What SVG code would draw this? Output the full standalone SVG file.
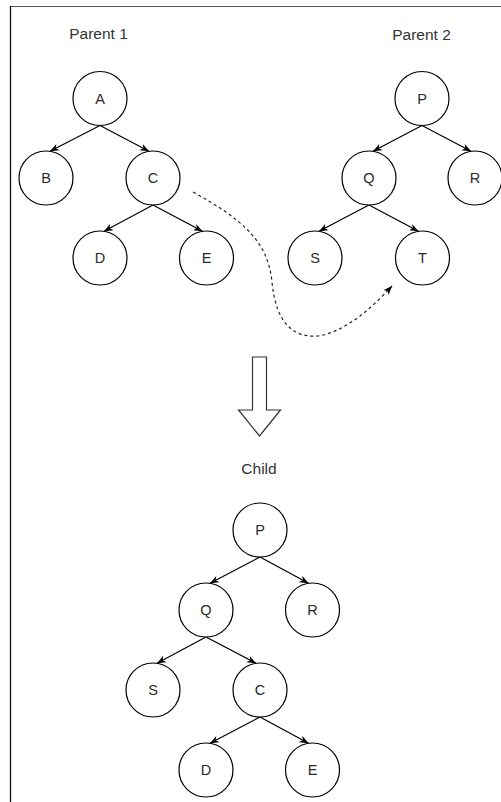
<svg xmlns="http://www.w3.org/2000/svg" width="501" height="802" viewBox="0 0 501 802">
<style>
  .node circle { fill: #ffffff; stroke: #000000; stroke-width: 1.2; }
  .node text { font-family: "Liberation Sans", Arial, sans-serif; font-size: 14.5px; fill: #2a2a2a; text-anchor: middle; }
  .label { font-family: "Liberation Sans", Arial, sans-serif; font-size: 15.5px; fill: #333333; text-anchor: middle; }
  .edge { stroke: #000000; stroke-width: 1.2; fill: none; marker-end: url(#arr); }
  .dashed { stroke: #222222; stroke-width: 1.2; fill: none; stroke-dasharray: 3 3; marker-end: url(#arr); }
</style>
<defs>
  <marker id="arr" viewBox="0 0 10 10" markerUnits="userSpaceOnUse" markerWidth="9" markerHeight="9" refX="10" refY="5" orient="auto">
    <path d="M0,1 L10,5 L0,9 L3,5 Z" fill="#000000"/>
  </marker>
</defs>
<rect x="0" y="0" width="501" height="802" fill="#ffffff"/>
<line x1="10" y1="6.5" x2="501" y2="6.5" stroke="#555555" stroke-width="1"/>
<line x1="10.5" y1="6" x2="10.5" y2="802" stroke="#111111" stroke-width="1.3"/>

<text class="label" x="98.5" y="39">Parent 1</text>
<text class="label" x="421.5" y="39.5">Parent 2</text>
<text class="label" x="259" y="474">Child</text>

<g id="connectors">
  <line class="edge" x1="100" y1="125.5" x2="50" y2="151.3"/>
  <line class="edge" x1="100" y1="125.5" x2="149" y2="151.3"/>
  <line class="edge" x1="153" y1="205" x2="104" y2="231.3"/>
  <line class="edge" x1="153" y1="205" x2="202.5" y2="231.3"/>
  <line class="edge" x1="422" y1="125.5" x2="373" y2="151.3"/>
  <line class="edge" x1="422" y1="125.5" x2="471" y2="151.3"/>
  <line class="edge" x1="369" y1="205" x2="319" y2="231.3"/>
  <line class="edge" x1="369" y1="205" x2="418.5" y2="231.3"/>
  <line class="edge" x1="260" y1="557" x2="210" y2="583.3"/>
  <line class="edge" x1="260" y1="557" x2="308.5" y2="583.3"/>
  <line class="edge" x1="206" y1="637" x2="157" y2="663.3"/>
  <line class="edge" x1="206" y1="637" x2="256" y2="663.3"/>
  <line class="edge" x1="260" y1="717" x2="210" y2="743.3"/>
  <line class="edge" x1="260" y1="717" x2="308.5" y2="743.3"/>
  <path class="dashed" d="M193,192 C240,218 268,240 272,282 C276,325 295,338 318,336 C345,332 372,308 392,286"/>
</g>

<g id="blockArrow">
  <polygon points="252.5,357 266.5,357 266.5,410 280.5,410 259.5,436 238.5,410 252.5,410" fill="#ffffff" stroke="#333333" stroke-width="1.2"/>
</g>

<g id="p1-A" class="node"><circle cx="100" cy="98.5" r="27"/><text x="100" y="103.5">A</text></g>
<g id="p1-B" class="node"><circle cx="46" cy="178" r="27"/><text x="46" y="183">B</text></g>
<g id="p1-C" class="node"><circle cx="153" cy="178" r="27"/><text x="153" y="183">C</text></g>
<g id="p1-D" class="node"><circle cx="100" cy="258" r="27"/><text x="100" y="263">D</text></g>
<g id="p1-E" class="node"><circle cx="206.5" cy="258" r="27"/><text x="206.5" y="263">E</text></g>

<g id="p2-P" class="node"><circle cx="422" cy="98.5" r="27"/><text x="422" y="103.5">P</text></g>
<g id="p2-Q" class="node"><circle cx="369" cy="178" r="27"/><text x="369" y="183">Q</text></g>
<g id="p2-R" class="node"><circle cx="475" cy="178" r="27"/><text x="475" y="183">R</text></g>
<g id="p2-S" class="node"><circle cx="315" cy="258" r="27"/><text x="315" y="263">S</text></g>
<g id="p2-T" class="node"><circle cx="422.5" cy="258" r="27"/><text x="422.5" y="263">T</text></g>

<g id="c-P" class="node"><circle cx="260" cy="530" r="27"/><text x="260" y="535">P</text></g>
<g id="c-Q" class="node"><circle cx="206" cy="610" r="27"/><text x="206" y="615">Q</text></g>
<g id="c-R" class="node"><circle cx="312.5" cy="610" r="27"/><text x="312.5" y="615">R</text></g>
<g id="c-S" class="node"><circle cx="153" cy="690" r="27"/><text x="153" y="695">S</text></g>
<g id="c-C" class="node"><circle cx="260" cy="690" r="27"/><text x="260" y="695">C</text></g>
<g id="c-D" class="node"><circle cx="206" cy="770" r="27"/><text x="206" y="775">D</text></g>
<g id="c-E" class="node"><circle cx="312.5" cy="770" r="27"/><text x="312.5" y="775">E</text></g>
</svg>
